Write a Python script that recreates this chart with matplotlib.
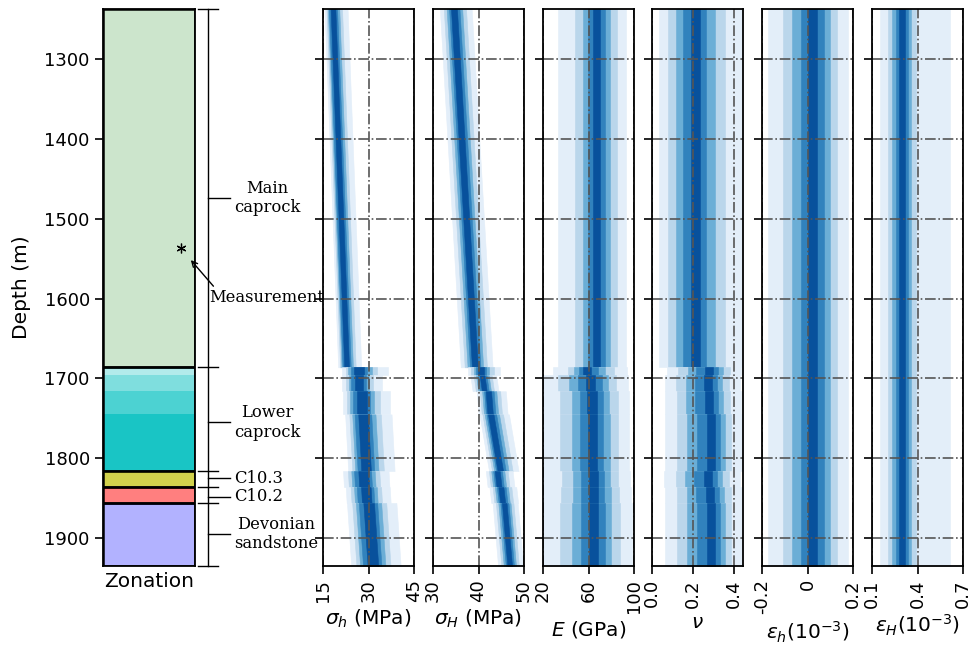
import matplotlib
matplotlib.use("Agg")
from matplotlib import pyplot as plt
from matplotlib import transforms as mtrans
from matplotlib.colors import to_rgba

# ---- depth layers (m): main caprock, 4 lower caprock sublayers, C10.3, C10.2, Devonian
layerTop = [1237, 1686, 1696, 1716, 1745, 1816, 1836, 1856]
layerBot = [1686, 1696, 1716, 1745, 1816, 1836, 1856, 1935]

# ---- zonation column
zoneNames = ["Main\ncaprock", "Lower\ncaprock", "C10.3", "C10.2", "Devonian\nsandstone"]
zoneTop = [1237, 1686, 1816, 1836, 1856]
zoneBot = [1686, 1816, 1836, 1856, 1935]
zoneColor = ["g", "c", "y", "r", "b"]
zoneAlpha = [0.2, None, 0.7, 0.5, 0.3]
zoneLabelDepth = [1474, 1755, 1825, 1848, 1895]
lowerCapTop = [1686, 1696, 1716, 1745]
lowerCapBot = [1696, 1716, 1745, 1816]
lowerCapAlpha = [0.3, 0.5, 0.7, 0.9]
measurementDepth = 1536

bandColors = ["#e3eef9", "#bad6eb", "#6baed6", "#3182bd", "#08519c"]

# ---- sigma_h (MPa): median at top/bottom of each layer, lower/upper spread
shMedTop = [18.3, 26.9, 27.1, 28.0, 28.3, 28.6, 29.5, 30.4]
shMedBot = [22.8, 26.9, 27.1, 28.0, 29.3, 28.9, 29.8, 31.8]
shLo = [2.8, 5.8, 6.0, 6.5, 6.0, 7.0, 7.0, 7.5]
shHi = [4.8, 9.6, 7.2, 9.1, 9.3, 8.0, 7.5, 8.8]
shFracLo = [1, 0.77, 0.61, 0.48, 0.28]
shFracHi = [1, 0.62, 0.43, 0.28, 0.16]

# ---- sigma_H (MPa)
sHMedTop = [34.5, 40.3, 40.7, 42.0, 42.5, 44.0, 44.8, 45.6]
sHMedBot = [39.1, 40.3, 41.2, 42.4, 44.6, 44.4, 45.2, 46.8]
sHLo = [3.0, 2.6, 2.5, 2.4, 2.3, 2.4, 2.4, 2.5]
sHHi = [4.0, 4.4, 3.2, 4.0, 4.2, 3.5, 3.5, 3.0]
sHFracLo = [1, 0.71, 0.5, 0.32, 0.18]
sHFracHi = [1, 0.69, 0.48, 0.33, 0.19]

# ---- E (GPa)
eMed = [67.0, 58.0, 62.0, 63.3, 64.0, 64.5, 64.5, 64.5]
eLo = [33.8, 29.0, 52.0, 50.0, 52.0, 50.0, 51.0, 52.0]
eHi = [25.9, 36.0, 33.0, 32.6, 32.0, 32.0, 33.0, 34.0]
eFracLo = [1, 0.56, 0.36, 0.22, 0.086]
eFracHi = [1, 0.683, 0.456, 0.286, 0.116]

# ---- Poisson ratio
nuMed = [0.21, 0.285, 0.28, 0.285, 0.295, 0.28, 0.29, 0.295]
nuLo = [0.176, 0.21, 0.215, 0.22, 0.23, 0.22, 0.225, 0.23]
nuHi = [0.23, 0.15, 0.15, 0.15, 0.145, 0.15, 0.15, 0.145]
nuFracLo = [1, 0.75, 0.53, 0.33, 0.12]
nuFracHi = [1, 0.635, 0.42, 0.243, 0.1]

# ---- strains (1e-3), same over the whole interval
ehMed = [0.022]
ehLo = [0.196]
ehHi = [0.156]
ehFracLo = [1, 0.663, 0.449, 0.25, 0.102]
ehFracHi = [1, 0.692, 0.506, 0.314, 0.128]

eHMed = [0.297]
eHLo = [0.142]
eHHi = [0.32]
eHFracLo = [1, 0.64, 0.444, 0.289, 0.134]
eHFracHi = [1, 0.3, 0.197, 0.125, 0.059]

depthTicks = [1300, 1400, 1500, 1600, 1700, 1800, 1900]

panelLabels = [r"$\sigma_h$ (MPa)", r"$\sigma_H$ (MPa)", r"$E$ (GPa)", r"$\nu$",
               r"$\varepsilon_h(10^{-3})$", r"$\varepsilon_H(10^{-3})$"]
panelLims = [(15, 45), (30, 50), (20, 100), (0, 0.445), (-0.2, 0.2), (0.1, 0.7)]
panelTicks = [[15, 30, 45], [30, 40, 50], [20, 60, 100], [0.0, 0.2, 0.4],
              [-0.2, 0, 0.2], [0.1, 0.4, 0.7]]
panelTickLabels = [["15", "30", "45"], ["30", "40", "50"], ["20", "60", "100"],
                   ["0.0", "0.2", "0.4"], ["-0.2", "0", "0.2"], ["0.1", "0.4", "0.7"]]

plt.rcParams["font.family"] = "DejaVu Sans"
TICK_FS = 13
LABEL_FS = 14.5


def drawBands(ax, tops, bots, medTop, medBot, lo, hi, fracLo, fracHi):
    for i in range(len(tops)):
        y = [tops[i], bots[i]]
        for k in range(5):
            x1 = [medTop[i] - lo[i] * fracLo[k], medBot[i] - lo[i] * fracLo[k]]
            x2 = [medTop[i] + hi[i] * fracHi[k], medBot[i] + hi[i] * fracHi[k]]
            ax.fill_betweenx(y, x1, x2, color=bandColors[k], lw=0.4, zorder=1)


fig = plt.figure(figsize=(9.71, 6.5), dpi=100)
bottom = 1 - 566 / 650
height = (566 - 9) / 650
width = 91 / 971

# ---- zonation column
axz = fig.add_axes([103 / 971, bottom, 92 / 971, height])
for top, bot, col, alp in zip(zoneTop, zoneBot, zoneColor, zoneAlpha):
    if alp is None:
        for t, b, a in zip(lowerCapTop, lowerCapBot, lowerCapAlpha):
            axz.axhspan(t, b, facecolor=to_rgba(col, a), lw=0)
        axz.axhspan(top, bot, facecolor="none", edgecolor="k", lw=1.8)
    else:
        axz.axhspan(top, bot, facecolor=to_rgba(col, alp), edgecolor="k", lw=1.8)
axz.set_xlim(0, 1)
axz.set_ylim(layerBot[-1], layerTop[0])
axz.set_xticks([])
axz.set_yticks(depthTicks)
axz.tick_params(axis="y", labelsize=TICK_FS, length=6, width=1.2)
axz.set_ylabel("Depth (m)", fontsize=LABEL_FS, labelpad=10)
axz.set_xlabel("Zonation", fontsize=LABEL_FS, labelpad=4)
for sp in axz.spines.values():
    sp.set_linewidth(1.3)

# bracket with zone boundaries and labels
tr = mtrans.blended_transform_factory(axz.transAxes, axz.transData)
axz.plot([1.141, 1.141], [layerTop[0], layerBot[-1]], color="k", lw=1,
         transform=tr, clip_on=False)
for d in [zoneTop[0]] + zoneBot:
    axz.plot([1.033, 1.25], [d, d], color="k", lw=1, transform=tr, clip_on=False)
for name, d in zip(zoneNames, zoneLabelDepth):
    axz.plot([1.141, 1.38], [d, d], color="k", lw=1, transform=tr, clip_on=False)
    axz.text(1.42, d, name, transform=tr, ha="left", va="center",
             multialignment="center", family="DejaVu Serif", fontsize=11.8)

axz.plot(0.85, measurementDepth, marker=(6, 2, 0), ms=7, mew=0.9, color="k")
axz.annotate("", xy=(0.935, measurementDepth + 13), xycoords=tr,
             xytext=(1.22, measurementDepth + 51), textcoords=tr,
             arrowprops=dict(arrowstyle="->", color="k", lw=1))
axz.text(1.16, measurementDepth + 63, "Measurement", transform=tr, ha="left",
         va="center", family="DejaVu Serif", fontsize=11.8, zorder=5)

# ---- property panels
full = [layerTop[0]]
fullBot = [layerBot[-1]]
panelData = [
    (layerTop, layerBot, shMedTop, shMedBot, shLo, shHi, shFracLo, shFracHi),
    (layerTop, layerBot, sHMedTop, sHMedBot, sHLo, sHHi, sHFracLo, sHFracHi),
    (layerTop, layerBot, eMed, eMed, eLo, eHi, eFracLo, eFracHi),
    (layerTop, layerBot, nuMed, nuMed, nuLo, nuHi, nuFracLo, nuFracHi),
    (full, fullBot, ehMed, ehMed, ehLo, ehHi, ehFracLo, ehFracHi),
    (full, fullBot, eHMed, eHMed, eHLo, eHHi, eHFracLo, eHFracHi),
]
panelLeft = [323, 433, 543, 652, 762, 872]

for i in range(6):
    ax = fig.add_axes([panelLeft[i] / 971, bottom, width, height])
    drawBands(ax, *panelData[i])
    ax.set_xlim(*panelLims[i])
    ax.set_ylim(layerBot[-1], layerTop[0])
    ax.set_yticks(depthTicks)
    ax.set_yticklabels([])
    ax.set_xticks(panelTicks[i])
    ax.set_xticklabels(panelTickLabels[i], rotation=90)
    ax.tick_params(labelsize=TICK_FS, length=6, width=1.2)
    ax.set_xlabel(panelLabels[i], fontsize=LABEL_FS)
    ax.grid(True, linestyle="-.", color="#555555", lw=1.2)
    ax.set_axisbelow(False)
    for sp in ax.spines.values():
        sp.set_linewidth(1.3)
        sp.set_zorder(4)

fig.savefig("out.png", dpi=100)
